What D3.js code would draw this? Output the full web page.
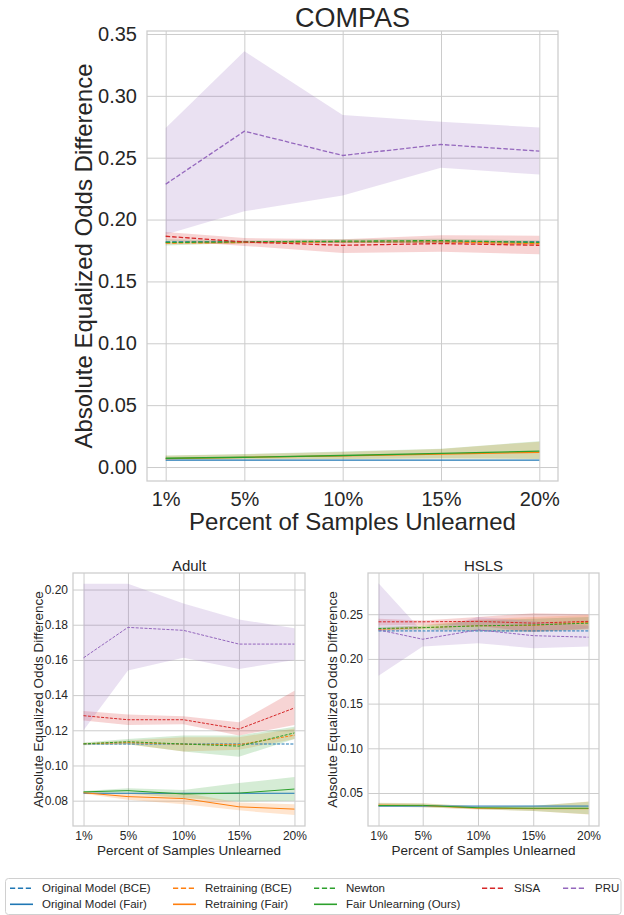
<!DOCTYPE html>
<html><head><meta charset="utf-8">
<script src="https://cdn.jsdelivr.net/npm/d3@7/dist/d3.min.js"></script>
<style>
body{margin:0;background:#fff;}
text{font-family:"Liberation Sans",Arial,sans-serif;fill:#262626;}
</style>
</head><body>
<svg id="fig" width="624" height="915"></svg>
<script>
// ---------- data ----------
const xPercents = [1, 5, 10, 15, 20];
const xTickLabels = ["1%", "5%", "10%", "15%", "20%"];
const seriesNames = ["Original Model (BCE)", "Original Model (Fair)", "Retraining (BCE)", "Retraining (Fair)",
  "Newton", "Fair Unlearning (Ours)", "SISA", "PRU"];

// series order: OrigBCE, OrigFair, RetrainBCE, RetrainFair, Newton, FairUnlearning, SISA, PRU
const compasMean = [
  [0.1820, 0.1820, 0.1820, 0.1820, 0.1820],
  [0.0055, 0.0055, 0.0055, 0.0055, 0.0055],
  [0.1810, 0.1815, 0.1820, 0.1820, 0.1805],
  [0.0068, 0.0078, 0.0090, 0.0105, 0.0118],
  [0.1815, 0.1820, 0.1825, 0.1830, 0.1815],
  [0.0071, 0.0079, 0.0093, 0.0110, 0.0128],
  [0.1865, 0.1819, 0.1792, 0.1806, 0.1792],
  [0.2286, 0.2714, 0.2518, 0.2607, 0.2553]
];
const compasLow = [
  [0.1820, 0.1820, 0.1820, 0.1820, 0.1820],
  [0.0055, 0.0055, 0.0055, 0.0055, 0.0055],
  [0.1800, 0.1805, 0.1810, 0.1810, 0.1790],
  [0.0060, 0.0062, 0.0065, 0.0068, 0.0065],
  [0.1790, 0.1810, 0.1810, 0.1815, 0.1800],
  [0.0060, 0.0062, 0.0065, 0.0068, 0.0065],
  [0.1830, 0.1787, 0.1730, 0.1740, 0.1720],
  [0.1880, 0.2067, 0.2194, 0.2418, 0.2364]
];
const compasHigh = [
  [0.1820, 0.1820, 0.1820, 0.1820, 0.1820],
  [0.0055, 0.0055, 0.0055, 0.0055, 0.0055],
  [0.1820, 0.1825, 0.1830, 0.1830, 0.1820],
  [0.0092, 0.0104, 0.0122, 0.0145, 0.0205],
  [0.1840, 0.1830, 0.1840, 0.1845, 0.1830],
  [0.0093, 0.0105, 0.0125, 0.0147, 0.0209],
  [0.1900, 0.1850, 0.1840, 0.1873, 0.1870],
  [0.2740, 0.3360, 0.2846, 0.2790, 0.2744]
];

const adultMean = [
  [0.1122, 0.1122, 0.1122, 0.1122, 0.1122],
  [0.0842, 0.0842, 0.0842, 0.0842, 0.0842],
  [0.1123, 0.1130, 0.1121, 0.1118, 0.1172],
  [0.0845, 0.0823, 0.0812, 0.0765, 0.0752],
  [0.1123, 0.1135, 0.1122, 0.1110, 0.1185],
  [0.0850, 0.0857, 0.0838, 0.0843, 0.0866],
  [0.1283, 0.1260, 0.1260, 0.1207, 0.1327],
  [0.1612, 0.1785, 0.1768, 0.1690, 0.1690]
];
const adultLow = [
  [0.1122, 0.1122, 0.1122, 0.1122, 0.1122],
  [0.0842, 0.0842, 0.0842, 0.0842, 0.0842],
  [0.1118, 0.1120, 0.1080, 0.1090, 0.1150],
  [0.0840, 0.0805, 0.0780, 0.0745, 0.0718],
  [0.1115, 0.1120, 0.1080, 0.1050, 0.1150],
  [0.0845, 0.0840, 0.0815, 0.0795, 0.0800],
  [0.1255, 0.1230, 0.1235, 0.1170, 0.1230],
  [0.1200, 0.1540, 0.1612, 0.1548, 0.1600]
];
const adultHigh = [
  [0.1122, 0.1122, 0.1122, 0.1122, 0.1122],
  [0.0842, 0.0842, 0.0842, 0.0842, 0.0842],
  [0.1128, 0.1142, 0.1160, 0.1160, 0.1210],
  [0.0850, 0.0840, 0.0845, 0.0790, 0.0780],
  [0.1130, 0.1150, 0.1170, 0.1170, 0.1220],
  [0.0855, 0.0870, 0.0860, 0.0900, 0.0935],
  [0.1310, 0.1290, 0.1280, 0.1245, 0.1425],
  [0.2033, 0.2033, 0.1920, 0.1830, 0.1780]
];

const hslsMean = [
  [0.2313, 0.2313, 0.2313, 0.2313, 0.2313],
  [0.0354, 0.0354, 0.0354, 0.0354, 0.0354],
  [0.2330, 0.2350, 0.2370, 0.2375, 0.2410],
  [0.0365, 0.0360, 0.0330, 0.0325, 0.0325],
  [0.2340, 0.2350, 0.2370, 0.2380, 0.2400],
  [0.0360, 0.0362, 0.0335, 0.0330, 0.0330],
  [0.2415, 0.2415, 0.2420, 0.2400, 0.2420],
  [0.2325, 0.2220, 0.2325, 0.2260, 0.2243]
];
const hslsLow = [
  [0.2313, 0.2313, 0.2313, 0.2313, 0.2313],
  [0.0354, 0.0354, 0.0354, 0.0354, 0.0354],
  [0.2315, 0.2330, 0.2320, 0.2310, 0.2330],
  [0.0345, 0.0340, 0.0315, 0.0300, 0.0260],
  [0.2320, 0.2330, 0.2310, 0.2300, 0.2330],
  [0.0345, 0.0340, 0.0318, 0.0300, 0.0262],
  [0.2375, 0.2380, 0.2370, 0.2300, 0.2340],
  [0.1813, 0.2138, 0.2175, 0.2120, 0.2138]
];
const hslsHigh = [
  [0.2313, 0.2313, 0.2313, 0.2313, 0.2313],
  [0.0354, 0.0354, 0.0354, 0.0354, 0.0354],
  [0.2345, 0.2380, 0.2440, 0.2470, 0.2490],
  [0.0390, 0.0385, 0.0350, 0.0355, 0.0405],
  [0.2360, 0.2370, 0.2430, 0.2450, 0.2470],
  [0.0388, 0.0383, 0.0352, 0.0357, 0.0403],
  [0.2450, 0.2430, 0.2470, 0.2510, 0.2500],
  [0.2847, 0.2305, 0.2470, 0.2420, 0.2370]
];

const compasYTicks = [0, 0.05, 0.10, 0.15, 0.20, 0.25, 0.30, 0.35];
const adultYTicks = [0.08, 0.10, 0.12, 0.14, 0.16, 0.18, 0.20];
const hslsYTicks = [0.05, 0.10, 0.15, 0.20, 0.25];

// ---------- styles ----------
const seriesColors = ["#1f77b4", "#1f77b4", "#ff7f0e", "#ff7f0e", "#2ca02c", "#2ca02c", "#d62728", "#9467bd"];
const seriesDashed = [true, false, true, false, true, false, true, true];
const gridColor = "#cccccc";

const svg = d3.select("#fig");

function panel(c) {
  const x = d3.scaleLinear().domain([0.05, 20.95]).range([c.left, c.right]);
  const y = d3.scaleLinear().domain(c.yDomain).range([c.bottom, c.top]);
  const g = svg.append("g");

  // y axis + horizontal grid
  const ya = g.append("g").attr("transform", `translate(${c.left},0)`)
    .call(d3.axisLeft(y).tickValues(c.yTicks).tickSize(-(c.right - c.left))
      .tickPadding(c.yPad).tickFormat(d3.format(".2f")));
  ya.select(".domain").remove();
  ya.selectAll("line").attr("stroke", gridColor).attr("stroke-width", 1);
  ya.selectAll("text").attr("font-size", c.tickSize).attr("fill", "#262626")
    .style("font-family", "'Liberation Sans', Arial, sans-serif");

  // x axis + vertical grid
  const xa = g.append("g").attr("transform", `translate(0,${c.bottom})`)
    .call(d3.axisBottom(x).tickValues(xPercents).tickSize(-(c.bottom - c.top))
      .tickPadding(c.xPad).tickFormat((d, i) => xTickLabels[i]));
  xa.select(".domain").remove();
  xa.selectAll("line").attr("stroke", gridColor).attr("stroke-width", 1);
  xa.selectAll("text").attr("font-size", c.tickSize).attr("fill", "#262626")
    .style("font-family", "'Liberation Sans', Arial, sans-serif");

  // frame
  g.append("rect").attr("x", c.left).attr("y", c.top)
    .attr("width", c.right - c.left).attr("height", c.bottom - c.top)
    .attr("fill", "none").attr("stroke", gridColor).attr("stroke-width", 1.25);

  const area = d3.area().x((d, i) => x(xPercents[i])).y0(d => y(d[0])).y1(d => y(d[1]));
  const line = d3.line().x((d, i) => x(xPercents[i])).y(d => y(d));

  seriesNames.forEach((name, s) => {
    const band = c.mean[s].map((m, i) => [c.lo[s][i], c.hi[s][i]]);
    g.append("path").datum(band).attr("d", area)
      .attr("fill", seriesColors[s]).attr("fill-opacity", 0.2).attr("stroke", "none");
  });
  seriesNames.forEach((name, s) => {
    g.append("path").datum(c.mean[s]).attr("d", line)
      .attr("fill", "none").attr("stroke", seriesColors[s]).attr("stroke-width", c.lw)
      .attr("stroke-dasharray", seriesDashed[s] ? c.dash : null);
  });

  // labels
  svg.append("text").attr("x", (c.left + c.right) / 2).attr("y", c.titleY)
    .attr("text-anchor", "middle").attr("font-size", c.titleSize).text(c.title);
  svg.append("text").attr("x", (c.left + c.right) / 2).attr("y", c.xlabelY)
    .attr("text-anchor", "middle").attr("font-size", c.labelSize).text("Percent of Samples Unlearned");
  svg.append("text").attr("transform", `translate(${c.ylabelX},${(c.top + c.bottom) / 2}) rotate(-90)`)
    .attr("text-anchor", "middle").attr("font-size", c.labelSize).text("Absolute Equalized Odds Difference");
}

panel({left: 147, right: 558, top: 31, bottom: 481, yDomain: [-0.0113, 0.3524], yTicks: compasYTicks,
  mean: compasMean, lo: compasLow, hi: compasHigh, title: "COMPAS", titleSize: 27, titleY: 27,
  tickSize: 20, labelSize: 24, xlabelY: 530, ylabelX: 92, yPad: 10, xPad: 11, lw: 1.3, dash: "4.5,2"});

panel({left: 73, right: 305, top: 573, bottom: 826, yDomain: [0.0656, 0.2094], yTicks: adultYTicks,
  mean: adultMean, lo: adultLow, hi: adultHigh, title: "Adult", titleSize: 15, titleY: 570.5,
  tickSize: 12, labelSize: 13.5, xlabelY: 854.5, ylabelX: 43, yPad: 5, xPad: 5.5, lw: 1, dash: "3,1.4"});

panel({left: 368, right: 599, top: 573, bottom: 826, yDomain: [0.0131, 0.2961], yTicks: hslsYTicks,
  mean: hslsMean, lo: hslsLow, hi: hslsHigh, title: "HSLS", titleSize: 15, titleY: 570.5,
  tickSize: 12, labelSize: 13.5, xlabelY: 854.5, ylabelX: 337, yPad: 5, xPad: 5.5, lw: 1, dash: "3,1.4"});

// ---------- legend ----------
const legendCols = [[0, 1], [2, 3], [4, 5], [6], [7]];
const legendHandleX = [10, 173, 314, 482, 563];
const leg = svg.append("g");
leg.append("rect").attr("x", 5.5).attr("y", 878.5).attr("width", 615.5).attr("height", 36)
  .attr("rx", 3).attr("fill", "#fff").attr("stroke", "#d0d0d0").attr("stroke-width", 1);
legendCols.forEach((col, ci) => {
  col.forEach((s, ri) => {
    const yy = 888.3 + ri * 16;
    const hx = legendHandleX[ci];
    leg.append("line").attr("x1", hx).attr("x2", hx + 23).attr("y1", yy).attr("y2", yy)
      .attr("stroke", seriesColors[s]).attr("stroke-width", 1.6)
      .attr("stroke-dasharray", seriesDashed[s] ? "5.2,2.7" : null);
    leg.append("text").attr("x", hx + 32).attr("y", yy + 4).attr("font-size", 11.5).text(seriesNames[s]);
  });
});
</script>
</body></html>
